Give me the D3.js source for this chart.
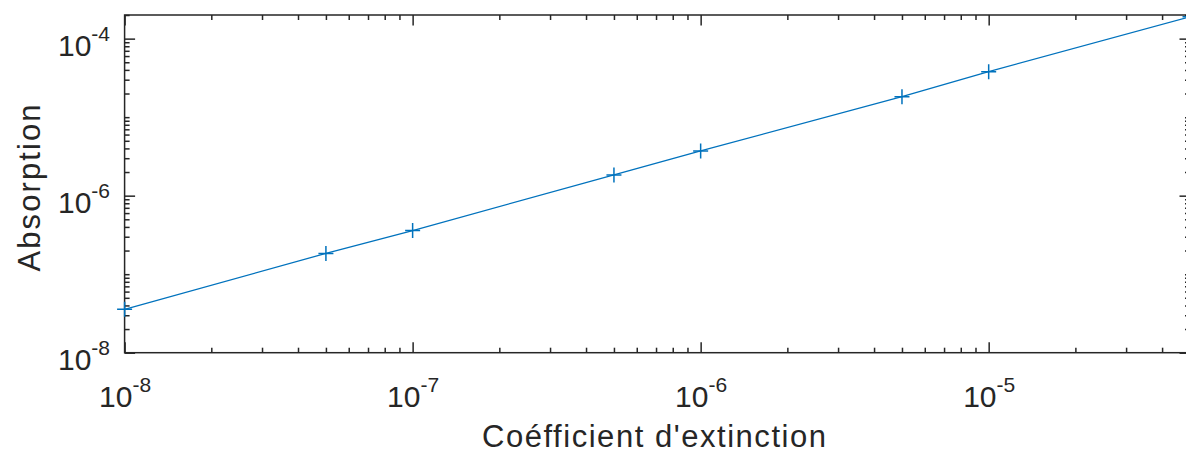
<!DOCTYPE html>
<html>
<head>
<meta charset="utf-8">
<script src="https://cdn.jsdelivr.net/npm/d3@7"></script>
<style>
  html, body { margin: 0; padding: 0; background: #fff; }
  svg { display: block; font-family: "Liberation Sans", Arial, Helvetica, sans-serif; }
</style>
</head>
<body>
<svg id="chart" width="1186" height="454"></svg>
<script>
// ---- data ----
const coefficients = [1e-8, 5e-8, 1e-7, 5e-7, 1e-6, 5e-6, 1e-5, 5e-5];
const absorption   = [3.57e-8, 1.84e-7, 3.6e-7, 1.84e-6, 3.71e-6, 1.82e-5, 3.8e-5, 1.9e-4];
const xMajorTicks = [1e-8, 1e-7, 1e-6, 1e-5];
const yMajorTicks = [1e-8, 1e-6, 1e-4];
const xLabel = "Coéfficient d'extinction";
const yLabel = "Absorption";

// ---- layout ----
const plotLeft = 124.6, plotRight = 1190, plotTop = 15, plotBottom = 352.7;
const axisColor = "#262626";
const lineColor = "#0072BD";

const x = d3.scaleLog().domain([1e-8, 5e-5]).range([plotLeft, plotRight]);
const y = d3.scaleLog().domain([1e-8, 2e-4]).range([plotBottom, plotTop]);

function minorTicks(scale, majors) {
  const [d0, d1] = scale.domain();
  const out = [];
  for (let e = Math.floor(Math.log10(d0)); e <= Math.ceil(Math.log10(d1)); e++) {
    for (let k = 1; k <= 9; k++) {
      const v = k * Math.pow(10, e);
      if (v >= d0 * 0.9999 && v <= d1 * 1.0001 && !majors.some(m => Math.abs(m - v) / v < 1e-9)) out.push(v);
    }
  }
  return out;
}
const xMinor = minorTicks(x, xMajorTicks);
const yMinor = minorTicks(y, yMajorTicks);

const svg = d3.select("#chart");

function styleAxis(g) {
  g.select(".domain").remove();
  g.selectAll(".tick line").attr("stroke", axisColor).attr("stroke-width", 1.5);
}

function supLabel(textSel) {
  textSel.each(function(d) {
    const t = d3.select(this);
    const e = Math.round(Math.log10(d));
    t.text(null).attr("dy", null);
    t.append("tspan").text("10");
    t.append("tspan").attr("dy", -15).attr("font-size", 21).text(String(e));
  });
}

const MAJ = 10.5, MIN = 5;

// bottom axis
svg.append("g").attr("transform", `translate(0,${plotBottom})`)
  .call(d3.axisBottom(x).tickValues(xMinor).tickSize(-MIN).tickFormat(""))
  .call(styleAxis);
const gxb = svg.append("g").attr("transform", `translate(0,${plotBottom})`)
  .call(d3.axisBottom(x).tickValues(xMajorTicks).tickSize(-MAJ).tickPadding(0))
  .call(styleAxis);
gxb.selectAll(".tick text")
  .attr("y", 54).attr("fill", axisColor).attr("font-size", 30)
  .attr("font-family", "Liberation Sans, Arial, sans-serif")
  .call(supLabel);

// top axis (ticks only)
svg.append("g").attr("transform", `translate(0,${plotTop})`)
  .call(d3.axisTop(x).tickValues(xMinor).tickSize(-MIN).tickFormat(""))
  .call(styleAxis);
svg.append("g").attr("transform", `translate(0,${plotTop})`)
  .call(d3.axisTop(x).tickValues(xMajorTicks).tickSize(-MAJ).tickFormat(""))
  .call(styleAxis);

// left axis
svg.append("g").attr("transform", `translate(${plotLeft},0)`)
  .call(d3.axisLeft(y).tickValues(yMinor).tickSize(-MIN).tickFormat(""))
  .call(styleAxis);
const gyl = svg.append("g").attr("transform", `translate(${plotLeft},0)`)
  .call(d3.axisLeft(y).tickValues(yMajorTicks).tickSize(-MAJ).tickPadding(0))
  .call(styleAxis);
gyl.selectAll(".tick text")
  .attr("x", -14.6).attr("y", 17).attr("fill", axisColor).attr("font-size", 30)
  .attr("text-anchor", "end")
  .attr("font-family", "Liberation Sans, Arial, sans-serif")
  .call(supLabel);

// right axis (ticks only)
svg.append("g").attr("transform", `translate(${plotRight},0)`)
  .call(d3.axisRight(y).tickValues(yMinor).tickSize(-MIN).tickFormat(""))
  .call(styleAxis);
svg.append("g").attr("transform", `translate(${plotRight},0)`)
  .call(d3.axisRight(y).tickValues(yMajorTicks).tickSize(-MAJ).tickFormat(""))
  .call(styleAxis);

// spines
svg.append("rect")
  .attr("x", x.range()[0]).attr("y", y.range()[1])
  .attr("width", x.range()[1] - x.range()[0]).attr("height", y.range()[0] - y.range()[1])
  .attr("fill", "none").attr("stroke", axisColor).attr("stroke-width", 1.5);

// data line
const pts = coefficients.map((c, i) => [c, absorption[i]]);
svg.append("path")
  .datum(pts)
  .attr("fill", "none").attr("stroke", lineColor).attr("stroke-width", 1.3)
  .attr("d", d3.line().x(d => x(d[0])).y(d => y(d[1])));

// markers '+'
svg.append("g").selectAll("path.mk")
  .data(pts).join("path").attr("class", "mk")
  .attr("transform", d => `translate(${x(d[0])},${y(d[1])})`)
  .attr("d", "M-7.5,0H7.5M0,-7.5V7.5")
  .attr("stroke", lineColor).attr("stroke-width", 1.5).attr("fill", "none");

// axis labels
svg.append("text")
  .attr("x", 654).attr("y", 447)
  .attr("text-anchor", "middle").attr("font-size", 31).attr("fill", axisColor)
  .attr("textLength", 344).attr("lengthAdjust", "spacing")
  .text(xLabel);

svg.append("text")
  .attr("transform", "translate(40,188) rotate(-90)")
  .attr("text-anchor", "middle").attr("font-size", 31).attr("fill", axisColor)
  .attr("textLength", 167).attr("lengthAdjust", "spacing")
  .text(yLabel);
</script>
</body>
</html>
